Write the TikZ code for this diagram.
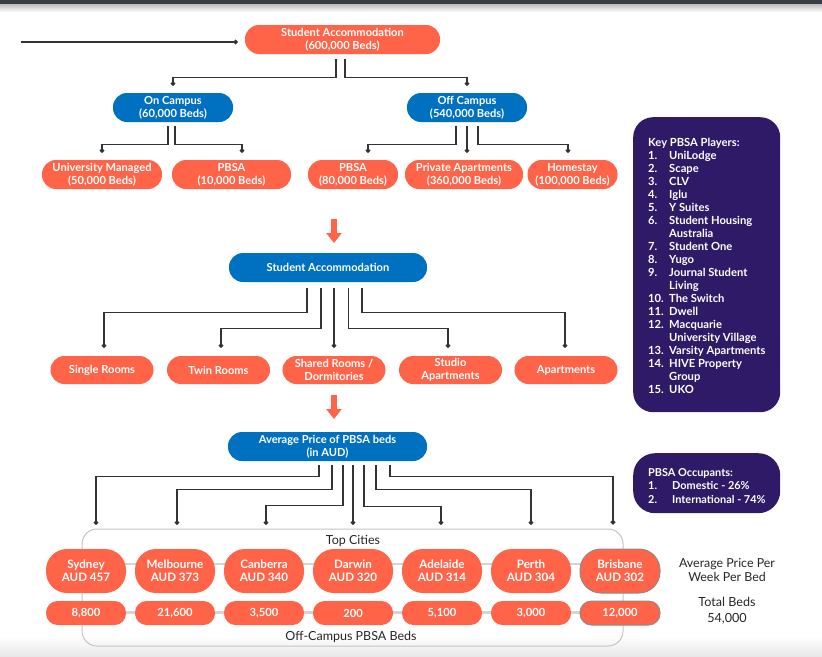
\documentclass[tikz,border=0pt]{standalone}
\usepackage{fontspec}
\setmainfont{Lato}
\usetikzlibrary{arrows.meta,calc}
\definecolor{orng}{HTML}{FF6348}
\definecolor{blu}{HTML}{0070C0}
\definecolor{purp}{HTML}{2E1A66}
\definecolor{lnk}{HTML}{333333}
\definecolor{topbar}{HTML}{373D40}
\definecolor{boxgray}{HTML}{C4C4C4}
\definecolor{rowgray}{HTML}{D4D4D4}
\tikzset{
 pill/.style={rectangle, rounded corners=14pt, inner sep=0pt, align=center, text=white,
   font=\bfseries\fontsize{11.1}{13}\selectfont, minimum height=29pt},
 onode/.style={pill, fill=orng},
 bnode/.style={pill, fill=blu},
 citynode/.style={pill, fill=orng, minimum width=80pt, minimum height=44pt, rounded corners=21pt,
   font=\bfseries\fontsize{11.6}{13.3}\selectfont},
 numnode/.style={pill, fill=orng, minimum width=80pt, minimum height=24pt, rounded corners=11.5pt,
   font=\bfseries\fontsize{11.2}{13}\selectfont},
 conn/.style={draw=lnk, line width=1.3pt, -{Circle[length=4.5pt]}},
 bigarrow/.style={draw=orng, line width=6pt, -{Triangle[length=10pt,width=15pt]}},
 purpbox/.style={fill=purp, inner sep=0pt, anchor=north west},
 purptext/.style={anchor=north west, inner sep=0pt, text=white, align=left},
 plaintext/.style={text=black!85, align=center, inner sep=0pt},
}
\begin{document}
\begin{tikzpicture}[x=1pt,y=-1pt]
\useasboundingbox (0,0) rectangle (822,656);
% page decorations
\fill[topbar] (0,0) rectangle (822,4.5);
\shade[top color=black!25, bottom color=white] (0,4.5) rectangle (822,12);
\shade[top color=white, bottom color=black!9] (0,636) rectangle (822,656);

% ---------- level 1 ----------
\node[onode, minimum width=195pt] (top) at (342.5,39.5) {Student Accommodation\\(600,000 Beds)};
\node[bnode, minimum width=120pt] (on) at (173,107.5) {On Campus\\(60,000 Beds)};
\node[bnode, minimum width=120pt] (off) at (467,107.5) {Off Campus\\(540,000 Beds)};
\node[onode, minimum width=120pt] (um) at (102,174.5) {University Managed\\(50,000 Beds)};
\node[onode, minimum width=119pt] (pb1) at (231.5,174.5) {PBSA\\(10,000 Beds)};
\node[onode, minimum width=90pt] (pb2) at (353,174.5) {PBSA\\(80,000 Beds)};
\node[onode, minimum width=118pt] (pa) at (464,174.5) {Private Apartments\\(360,000 Beds)};
\node[onode, minimum width=90pt] (hs) at (572.5,174.5) {Homestay\\(100,000 Beds)};

\coordinate (ls) at (21,42);
\draw[conn] (ls) -- ([xshift=-7pt]top.west |- ls);
\draw[conn] ([xshift=-6.5pt,yshift=-5pt]top.south) |- ([yshift=15pt]on.north) -- ([yshift=7pt]on.north);
\draw[conn] ([xshift=2.5pt,yshift=-5pt]top.south) |- ([yshift=15pt]off.north) -- ([yshift=7pt]off.north);
\draw[conn] ([xshift=-5pt,yshift=-4pt]on.south) |- ([yshift=15pt]um.north) -- ([yshift=7pt]um.north);
\draw[conn] ([xshift=2pt,yshift=-4pt]on.south) |- ([xshift=10.5pt,yshift=15pt]pb1.north) -- ([xshift=10.5pt,yshift=7pt]pb1.north);
\draw[conn] ([xshift=-11pt,yshift=-4pt]off.south) |- ([xshift=15pt,yshift=15pt]pb2.north) -- ([xshift=15pt,yshift=7pt]pb2.north);
\draw[conn] ([yshift=-4pt]off.south) -- ([yshift=7pt]off.south |- pa.north);
\draw[conn] ([xshift=11pt,yshift=-4pt]off.south) |- ([xshift=-4.5pt,yshift=15pt]hs.north) -- ([xshift=-4.5pt,yshift=7pt]hs.north);

% ---------- arrow 1 ----------
\coordinate (a1s) at (334,219);
\coordinate (a1e) at (334,243);
\draw[bigarrow] (a1s) -- (a1e);

% ---------- level 2 ----------
\node[bnode, minimum width=198pt] (sa) at (328,267.5) {Student Accommodation};
\node[onode, minimum width=103pt, minimum height=28pt] (sr) at (102,370) {Single Rooms};
\node[onode, minimum width=103pt, minimum height=28pt] (tr) at (218.5,370) {Twin Rooms};
\node[onode, minimum width=103pt, minimum height=28pt] (sh) at (334,370) {Shared Rooms /\\Dormitories};
\node[onode, minimum width=103pt, minimum height=28pt] (st) at (450.5,370) {Studio\\Apartments};
\node[onode, minimum width=103pt, minimum height=28pt] (ap) at (566,370) {Apartments};

\draw[conn] ([xshift=-21pt,yshift=-6pt]sa.south) |- ([xshift=2pt,yshift=43pt]sr.north) -- ([xshift=2pt,yshift=8pt]sr.north);
\draw[conn] ([xshift=-7pt,yshift=-6pt]sa.south) |- ([xshift=2.5pt,yshift=27pt]tr.north) -- ([xshift=2.5pt,yshift=8pt]tr.north);
\draw[conn] ([xshift=6pt,yshift=-6pt]sa.south) -- ([yshift=8pt]sh.north);
\draw[conn] ([xshift=20.5pt,yshift=-6pt]sa.south) |- ([xshift=-2.5pt,yshift=27pt]st.north) -- ([xshift=-2.5pt,yshift=8pt]st.north);
\draw[conn] ([xshift=34pt,yshift=-6pt]sa.south) |- ([xshift=-1pt,yshift=43pt]ap.north) -- ([xshift=-1pt,yshift=8pt]ap.north);

% ---------- arrow 2 ----------
\coordinate (a2s) at (334,395);
\coordinate (a2e) at (334,419);
\draw[bigarrow] (a2s) -- (a2e);

% ---------- level 3 ----------
\node[bnode, minimum width=199pt] (avg) at (327.5,446.5) {Average Price of PBSA beds\\(in AUD)};

\draw[boxgray, line width=1pt, rounded corners=15pt] (82,529) rectangle (623,646);
\node[plaintext, font=\fontsize{12.5}{14}\selectfont] (tc) at (353,541) {Top Cities};
\node[plaintext, font=\fontsize{12.5}{14}\selectfont] (ocb) at (351,637) {Off-Campus PBSA Beds};

\coordinate (r1a) at (86,564);
\coordinate (r1b) at (620,564);
\draw[rowgray, line width=2.5pt] (r1a) -- (r1b);
\coordinate (r2a) at (86,612.5);
\coordinate (r2b) at (620,612.5);
\draw[rowgray, line width=2.5pt] (r2a) -- (r2b);

\node[citynode] (c1) at (86,571) {Sydney\\AUD 457};
\node[citynode] (c2) at (175,571) {Melbourne\\AUD 373};
\node[citynode] (c3) at (264,571) {Canberra\\AUD 340};
\node[citynode] (c4) at (353,571) {Darwin\\AUD 320};
\node[citynode] (c5) at (442,571) {Adelaide\\AUD 314};
\node[citynode] (c6) at (531,571) {Perth\\AUD 304};
\node[citynode, draw=black!45, line width=1pt] (c7) at (620,571) {Brisbane\\AUD 302};

\node[numnode] (n1) at (86,613) {8,800};
\node[numnode] (n2) at (175,613) {21,600};
\node[numnode] (n3) at (264,613) {3,500};
\node[numnode] (n4) at (353,613) {200};
\node[numnode] (n5) at (442,613) {5,100};
\node[numnode] (n6) at (531,613) {3,000};
\node[numnode, draw=black!45, line width=1pt] (n7) at (620,613) {12,000};

\draw[conn] ([xshift=-8.5pt,yshift=-4pt]avg.south) |- ([xshift=10pt,yshift=72pt]c1.north) -- ([xshift=10pt,yshift=24pt]c1.north);
\draw[conn] ([xshift=4.5pt,yshift=-4pt]avg.south) |- ([xshift=2pt,yshift=59pt]c2.north) -- ([xshift=2pt,yshift=24pt]c2.north);
\draw[conn] ([xshift=15.5pt,yshift=-4pt]avg.south) |- ([xshift=2pt,yshift=43pt]c3.north) -- ([xshift=2pt,yshift=24pt]c3.north);
\draw[conn] ([xshift=25.5pt,yshift=-4pt]avg.south) -- ([yshift=24pt]c4.north);
\draw[conn] ([xshift=36.5pt,yshift=-4pt]avg.south) |- ([xshift=-1pt,yshift=42pt]c5.north) -- ([xshift=-1pt,yshift=24pt]c5.north);
\draw[conn] ([xshift=48.5pt,yshift=-4pt]avg.south) |- ([yshift=59pt]c6.north) -- ([yshift=24pt]c6.north);
\draw[conn] ([xshift=62.5pt,yshift=-4pt]avg.south) |- ([xshift=-7pt,yshift=72pt]c7.north) -- ([xshift=-7pt,yshift=24pt]c7.north);

\node[plaintext, font=\fontsize{12.4}{14}\selectfont] (apw) at (727,570) {Average Price Per\\Week Per Bed};
\node[plaintext, font=\fontsize{12.6}{16}\selectfont] (tb) at (727,611) {Total Beds\\54,000};

% ---------- purple boxes ----------
\node[purpbox, rounded corners=20pt, minimum width=147pt, minimum height=295pt] (keybox) at (633,117) {};
\node[purptext, font=\bfseries\fontsize{11.2}{13}\selectfont] (keylist) at (648,137) {%
\begin{tabular}{@{}p{21pt}@{}l@{}}
\multicolumn{2}{@{}l@{}}{Key PBSA Players:}\\
1. & UniLodge\\
2. & Scape\\
3. & CLV\\
4. & Iglu\\
5. & Y Suites\\
6. & Student Housing\\
   & Australia\\
7. & Student One\\
8. & Yugo\\
9. & Journal Student\\
   & Living\\
10. & The Switch\\
11. & Dwell\\
12. & Macquarie\\
    & University Village\\
13. & Varsity Apartments\\
14. & HIVE Property\\
    & Group\\
15. & UKO
\end{tabular}};

\node[purpbox, rounded corners=22pt, minimum width=147pt, minimum height=60pt] (occbox) at (633,453) {};
\node[purptext, font=\bfseries\fontsize{10.9}{13.5}\selectfont] (occlist) at (648,466.5) {%
\begin{tabular}{@{}p{24pt}@{}l@{}}
\multicolumn{2}{@{}l@{}}{PBSA Occupants:}\\
1. & Domestic - 26\%\\
2. & International - 74\%
\end{tabular}};
\end{tikzpicture}
\end{document}
